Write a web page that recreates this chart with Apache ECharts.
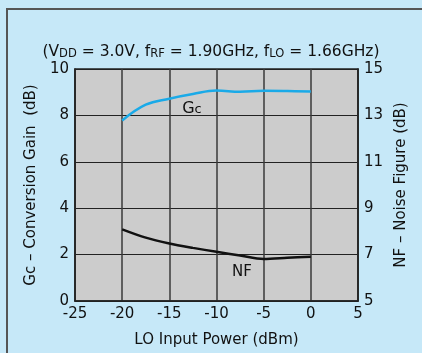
<!DOCTYPE html>
<html><head><meta charset="utf-8">
<script src="https://cdn.jsdelivr.net/npm/echarts@6/dist/echarts.min.js"></script>
<style>html,body{margin:0;padding:0;}#c{width:422px;height:353px;}</style>
</head><body><div id="c"></div>
<script>
const loPower = [-20, -17.5, -15, -12.5, -10, -7.5, -5, -2.5, 0];
const gcValues = [7.78, 8.46, 8.72, 8.92, 9.07, 9.02, 9.06, 9.05, 9.03];
const nfValues = [8.09, 7.73, 7.48, 7.29, 7.12, 6.96, 6.81, 6.86, 6.91];
const xTicks = [-25, -20, -15, -10, -5, 0, 5];
const gcTicks = [0, 2, 4, 6, 8, 10];
const nfTicks = [5, 7, 9, 11, 13, 15];

const font = 'DejaVu Sans, Liberation Sans, sans-serif';
const chart = echarts.init(document.getElementById('c'));
const yAxisCommon = {
  axisTick: {show: false},
  axisLabel: {fontSize: 15, color: '#111', margin: 6},
  nameTextStyle: {fontSize: 15, color: '#111'}
};
chart.setOption({
  backgroundColor: '#C6E8F8',
  animation: false,
  textStyle: {fontFamily: font},
  title: {
    text: '(V{s|DD} = 3.0V, f{s|RF} = 1.90GHz, f{s|LO} = 1.66GHz)',
    left: 'center', top: 39,
    textStyle: {
      fontSize: 15.5, fontWeight: 'normal', color: '#111', fontFamily: font,
      rich: {s: {fontSize: 11.5, color: '#111', fontFamily: font, verticalAlign: 'bottom'}}
    }
  },
  grid: {left: 75, right: 64, top: 69, bottom: 50, show: true, backgroundColor: '#CCCCCC', borderColor: '#222', borderWidth: 1.5},
  xAxis: {
    type: 'value', min: xTicks[0], max: xTicks[xTicks.length - 1], interval: 5,
    name: 'LO Input Power (dBm)', nameLocation: 'middle', nameGap: 32,
    nameTextStyle: {fontSize: 15, color: '#111'},
    axisLine: {show: true, onZero: false, lineStyle: {color: '#222', width: 1.5}},
    axisTick: {show: false},
    axisLabel: {fontSize: 15, color: '#111', margin: 6},
    splitLine: {show: true, lineStyle: {color: '#3a3a3a', width: 1.5}}
  },
  yAxis: [Object.assign({}, yAxisCommon, {
    type: 'value', min: gcTicks[0], max: gcTicks[gcTicks.length - 1], interval: 2,
    name: 'Gc – Conversion Gain  (dB)', nameLocation: 'middle', nameGap: 27, nameRotate: 90,
    axisLine: {show: true, onZero: false, lineStyle: {color: '#222', width: 1.5}},
    splitLine: {show: true, lineStyle: {color: '#222', width: 1.2}}
  }), Object.assign({}, yAxisCommon, {
    type: 'value', min: nfTicks[0], max: nfTicks[nfTicks.length - 1], interval: 2, position: 'right',
    name: 'NF – Noise Figure (dB)', nameLocation: 'middle', nameGap: 29, nameRotate: 90,
    axisLine: {show: true, onZero: false, lineStyle: {color: '#222', width: 1.5}},
    splitLine: {show: false}
  })],
  series: [{
    name: 'Gc', type: 'line', yAxisIndex: 0, smooth: 0.4, symbol: 'none',
    data: loPower.map((x, i) => [x, gcValues[i]]),
    lineStyle: {color: '#1AAAE8', width: 2.5},
    markPoint: {
      symbol: 'circle', symbolSize: 0,
      data: [{coord: [-12.6, 8.3]}],
      label: {show: true, formatter: 'G{s|c}', fontSize: 16, color: '#111', fontFamily: font,
        rich: {s: {fontSize: 13, color: '#111', fontFamily: font, verticalAlign: 'bottom'}}}
    }
  }, {
    name: 'NF', type: 'line', yAxisIndex: 1, smooth: 0.3, symbol: 'none',
    data: loPower.map((x, i) => [x, nfValues[i]]),
    lineStyle: {color: '#111', width: 2.5},
    markPoint: {
      symbol: 'circle', symbolSize: 0,
      data: [{coord: [-7.3, 6.25]}],
      label: {show: true, formatter: 'NF', fontSize: 15, color: '#111', fontFamily: font}
    }
  }],
  graphic: [
    {type: 'line', shape: {x1: 7, y1: 9, x2: 7, y2: 353}, style: {stroke: '#555', lineWidth: 2}},
    {type: 'line', shape: {x1: 6, y1: 9, x2: 422, y2: 9}, style: {stroke: '#555', lineWidth: 2}}
  ]
});
</script></body></html>
